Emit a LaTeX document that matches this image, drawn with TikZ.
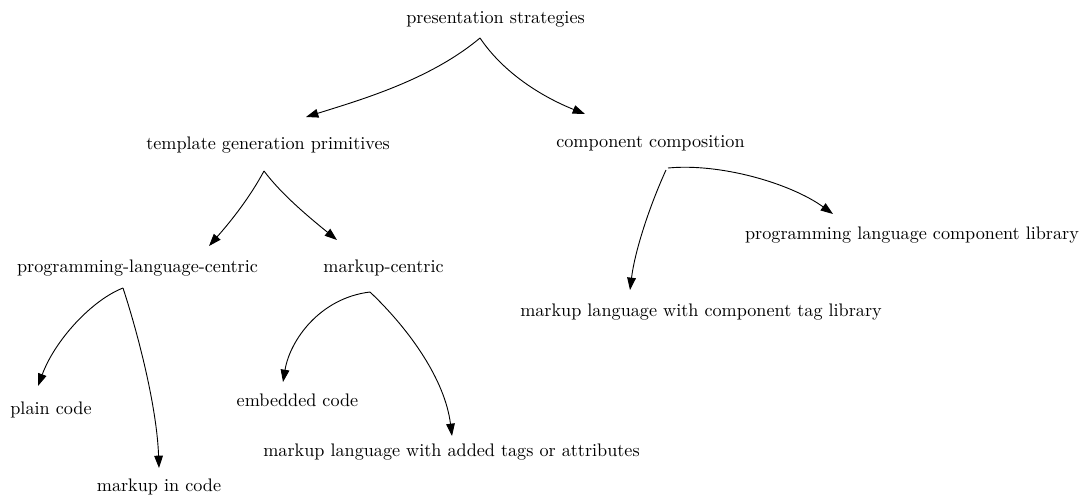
\documentclass[tikz,border=0pt]{standalone}
\usetikzlibrary{arrows.meta}

\tikzset{
  lbl/.style={anchor=base, inner sep=0pt, font=\fontsize{10}{12}\selectfont},
  edge/.style={line width=0.5pt, -{Triangle[length=6.8pt,width=4.8pt]}}
}

\begin{document}
\begin{tikzpicture}[x=0.5505pt, y=-0.5505pt]
  \useasboundingbox (0,0) rectangle (1088,498);

  % labels
  \node[lbl] (ps)    at (495.5,23)  {presentation strategies};
  \node[lbl] (tgp)   at (268,149)   {template generation primitives};
  \node[lbl] (cc)    at (650.5,147) {component composition};
  \node[lbl] (plc)   at (137.5,272) {programming-language-centric};
  \node[lbl] (mc)    at (383.5,272) {markup-centric};
  \node[lbl] (plcl)  at (912,239)   {programming language component library};
  \node[lbl] (mlctl) at (701,316)   {markup language with component tag library};
  \node[lbl] (pc)    at (51,414)    {plain code};
  \node[lbl] (ec)    at (297.5,406) {embedded code};
  \node[lbl] (mic)   at (159,491)   {markup in code};
  \node[lbl] (mlwat) at (451.5,456) {markup language with added tags or attributes};

  % edge ports below each parent label
  \coordinate (ps-out)   at (480,38);
  \coordinate (tgp-out)  at (264,171);
  \coordinate (cc-out)   at (668,168);
  \coordinate (cc-out2)  at (666,170);
  \coordinate (plc-out)  at (123,288);
  \coordinate (mc-out)   at (370,292);

  % arrow tips above each child label
  \coordinate (tgp-in)   at (306,117);
  \coordinate (cc-in)    at (585,114);
  \coordinate (plc-in)   at (209,246);
  \coordinate (mc-in)    at (337,240);
  \coordinate (plcl-in)  at (833,214);
  \coordinate (mlctl-in) at (630,290);
  \coordinate (pc-in)    at (38,386);
  \coordinate (mic-in)   at (159,468);
  \coordinate (ec-in)    at (283,382);
  \coordinate (mlwat-in) at (452,436);

  % connectors
  \draw[edge] (ps-out) .. controls (430,80) and (360,100) .. (tgp-in);
  \draw[edge] (ps-out) .. controls (505,75) and (545,98) .. (cc-in);

  \draw[edge] (tgp-out) .. controls (250,197) and (232,220) .. (plc-in);
  \draw[edge] (tgp-out) .. controls (282,195) and (310,218) .. (mc-in);

  \draw[edge] (cc-out) .. controls (720,163) and (790,183) .. (plcl-in);
  \draw[edge] (cc-out2) .. controls (650,205) and (635,250) .. (mlctl-in);

  \draw[edge] (plc-out) .. controls (92,300) and (55,340) .. (pc-in);
  \draw[edge] (plc-out) .. controls (140,340) and (157,410) .. (mic-in);

  \draw[edge] (mc-out) .. controls (320,298) and (290,340) .. (ec-in);
  \draw[edge] (mc-out) .. controls (410,330) and (445,380) .. (mlwat-in);
\end{tikzpicture}
\end{document}
